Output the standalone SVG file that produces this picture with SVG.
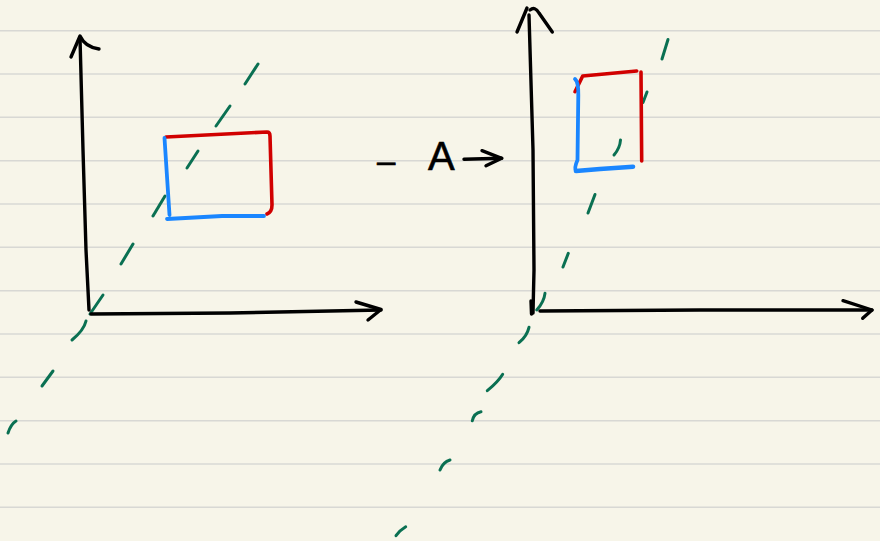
<svg xmlns="http://www.w3.org/2000/svg" width="880" height="541" viewBox="0 0 880 541">
<style>
.rule{stroke:#d8d8d4;stroke-width:1.6}
.ink{fill:none;stroke:#000;stroke-width:3.4;stroke-linecap:round;stroke-linejoin:round}
.red{fill:none;stroke:#d10000;stroke-width:3.6;stroke-linecap:round;stroke-linejoin:round}
.blue{fill:none;stroke:#1a86ff;stroke-width:3.8;stroke-linecap:round;stroke-linejoin:round}
.green{fill:none;stroke:#0a7052;stroke-width:3;stroke-linecap:round}
.lbl{font-family:"Liberation Sans",Arial,sans-serif;font-size:40px;fill:#000;stroke:#000;stroke-width:0.6}
</style>
<rect width="880" height="541" fill="#f7f5e9"/>
<g id="paper-lines">
<line class="rule" x1="0" y1="30.7" x2="880" y2="30.7"/>
<line class="rule" x1="0" y1="74" x2="880" y2="74"/>
<line class="rule" x1="0" y1="117.3" x2="880" y2="117.3"/>
<line class="rule" x1="0" y1="160.7" x2="880" y2="160.7"/>
<line class="rule" x1="0" y1="204" x2="880" y2="204"/>
<line class="rule" x1="0" y1="247.3" x2="880" y2="247.3"/>
<line class="rule" x1="0" y1="290.7" x2="880" y2="290.7"/>
<line class="rule" x1="0" y1="334" x2="880" y2="334"/>
<line class="rule" x1="0" y1="377.3" x2="880" y2="377.3"/>
<line class="rule" x1="0" y1="420.7" x2="880" y2="420.7"/>
<line class="rule" x1="0" y1="464" x2="880" y2="464"/>
<line class="rule" x1="0" y1="507.3" x2="880" y2="507.3"/>
</g>
<g id="left-diagram">
<g id="left-diagonal">
<path class="green" d="M258,64 L245,84"/>
<path class="green" d="M230,106 L216,126"/>
<path class="green" d="M198,151 L187,168"/>
<path class="green" d="M165,196 L153,216"/>
<path class="green" d="M133,244 L121,264"/>
<path class="green" d="M103,295 L90,314"/>
<path class="green" d="M86,321 Q84,330 72,340"/>
<path class="green" d="M53,371 L42,386"/>
<path class="green" d="M16,421 Q11,424 8,433"/>
</g>
<g id="left-rect">
<path class="red" d="M166,137 L267,132 Q270,132 270,136 L272,205 Q272,212 267,214"/>
<path class="blue" d="M164.5,138 L169.5,215"/>
<path class="blue" d="M167,219 L222,216 L264,216"/>
</g>
<g id="left-axes">
<path class="ink" d="M89,310 L86,250 L83,150 L80,38"/>
<path class="ink" d="M71,57 L80,36 Q85,47 99,49"/>
<path class="ink" d="M91,314 L230,313 L381,310"/>
<path class="ink" d="M356,302 L381,309.5 L368,320"/>
</g>
</g>
<g id="label">
<text class="lbl"><tspan x="377" y="172" font-size="33">–</tspan><tspan x="428" y="170">A</tspan></text>
<path class="ink" d="M464,159.3 L501.7,158.3"/>
<path class="ink" d="M482,150.7 L501.7,158.3 L486,165.7"/>
</g>
<g id="right-diagram">
<g id="right-diagonal">
<path class="green" d="M668,39.5 L662,59"/>
<path class="green" d="M647,92 L643,102.5"/>
<path class="green" d="M620.5,140 Q620,148 614,155"/>
<path class="green" d="M595,194.5 L588,213"/>
<path class="green" d="M568.3,253.3 L563,267"/>
<path class="green" d="M545,293.3 Q544,302 536.7,310"/>
<path class="green" d="M529,327.3 Q527,336 519,342.7"/>
<path class="green" d="M502.7,374.3 Q498,382 487.3,390.7"/>
<path class="green" d="M481,411.7 Q474,413 472.3,420.7"/>
<path class="green" d="M450,460 Q443,462 440,470"/>
<path class="green" d="M405.7,526.7 Q400,530 396,535.7"/>
</g>
<g id="right-rect">
<path class="red" d="M575,91.7 L582.7,76 L636.7,71"/>
<path class="red" d="M641,72 L641.7,161"/>
<path class="blue" d="M575,79 Q578.5,82 578.3,95 L577.5,160 Q574,168 576,171"/>
<path class="blue" d="M576,171 L600,169 L633,166.7" style="stroke-width:4.6"/>
</g>
<g id="right-axes">
<path class="ink" d="M529,15 L533,150 L534,270 L533,313"/>
<path class="ink" d="M531,301 L531.5,314"/>
<path class="ink" d="M517,32 L527,8"/>
<path class="ink" d="M530,10 Q535,6 539,13 L552.3,32"/>
<path class="ink" d="M540,311 L700,310 L872,310"/>
<path class="ink" d="M843,300.7 L872,310 L862.7,318.3"/>
</g>
</g>
</svg>
